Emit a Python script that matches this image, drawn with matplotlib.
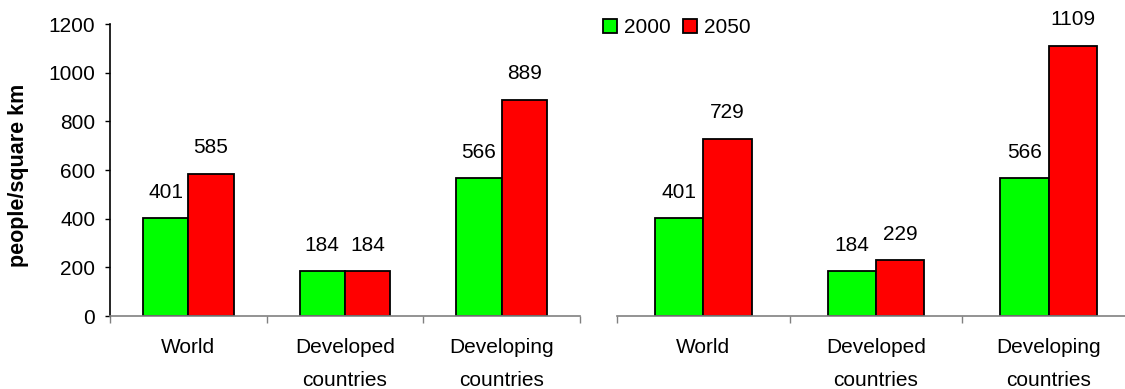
import matplotlib.pyplot as plt
from matplotlib.ticker import FixedLocator, NullFormatter
import numpy as np

plt.rcParams["font.family"] = ["Liberation Sans", "DejaVu Sans"]

categories = ["World", "Developed\ncountries", "Developing\ncountries"]
years = ["2000", "2050"]
left_2000 = [401, 184, 566]
left_2050 = [585, 184, 889]
right_2000 = [401, 184, 566]
right_2050 = [729, 229, 1109]

green = "#00ff00"
red = "#ff0000"
fs = 15

fig = plt.figure(figsize=(11.25, 3.89), dpi=100)
W, H = 1125, 389
bottom = 1 - 316 / H
height = 292 / H
ax_l = fig.add_axes([110 / W, bottom, 470 / W, height])
ax_r = fig.add_axes([617 / W, bottom, 518 / W, height])


def draw_panel(ax, vals_a, vals_b, width):
    x = np.arange(len(categories))
    bars_a = ax.bar(x - width / 2, vals_a, width, color=green, edgecolor="black",
                    linewidth=1.3, label=years[0])
    bars_b = ax.bar(x + width / 2, vals_b, width, color=red, edgecolor="black",
                    linewidth=1.3, label=years[1])
    for bars in (bars_a, bars_b):
        for b in bars:
            ax.annotate(f"{b.get_height():.0f}",
                        (b.get_x() + b.get_width() / 2, b.get_height()),
                        xytext=(0, 12), textcoords="offset points",
                        ha="center", va="bottom", fontsize=fs)
    ax.set_xlim(-0.5, 2.5)
    ax.set_ylim(0, 1200)
    ax.xaxis.set_major_locator(FixedLocator([-0.5, 0.5, 1.5, 2.5]))
    ax.xaxis.set_major_formatter(NullFormatter())
    ax.xaxis.set_minor_locator(FixedLocator(x))
    ax.set_xticklabels(categories, minor=True, fontsize=fs, linespacing=1.95)
    ax.tick_params(axis="x", which="major", direction="out", length=5,
                   width=1, color="#808080")
    ax.tick_params(axis="x", which="minor", length=0, pad=16)
    for s in ("top", "right"):
        ax.spines[s].set_visible(False)
    ax.spines["bottom"].set_color("#808080")
    ax.spines["bottom"].set_linewidth(1.2)
    return bars_a, bars_b


handles = draw_panel(ax_l, left_2000, left_2050, 0.29)
draw_panel(ax_r, right_2000, right_2050, 0.28)

ax_l.set_yticks(np.arange(0, 1201, 200))
ax_l.tick_params(axis="y", direction="out", length=3.6, width=1, labelsize=fs, pad=7)
ax_l.spines["left"].set_linewidth(1.2)
ax_l.set_ylabel("people/square km", fontsize=15.5, fontweight="bold")
ax_l.yaxis.label.set_va("center")
ax_l.yaxis.set_label_coords(-0.194, 0.48)

ax_r.spines["left"].set_visible(False)
ax_r.tick_params(axis="y", left=False, labelleft=False)

fig.legend(handles, years, loc="upper left", bbox_to_anchor=(603 / W, 1 - 18 / H),
           ncol=2, frameon=False, fontsize=fs, borderpad=0, borderaxespad=0,
           handlelength=0.67, handleheight=0.67, handletextpad=0.34,
           columnspacing=0.58)

fig.savefig("out.png", dpi=100)
